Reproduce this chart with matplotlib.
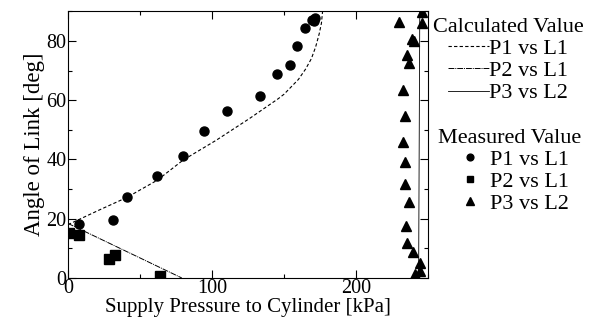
import numpy as np
import matplotlib.pyplot as plt
from matplotlib.ticker import MultipleLocator

plt.rcParams['font.family'] = ['Liberation Serif', 'DejaVu Serif']

# Calculated curves (pressure kPa, angle deg)
calc_p1_x = [0, 22, 41, 62, 80, 103, 126, 146, 150, 155, 160, 165, 169, 172, 174.5, 176, 176.8]
calc_p1_y = [18, 23, 27.2, 33, 39.8, 46.5, 53.8, 60.5, 62, 64.5, 67, 70.5, 74, 78, 82.5, 86, 90]
calc_p2_x = [0, 79]
calc_p2_y = [18.4, 0]
calc_p3_x = [243.5, 244.3]
calc_p3_y = [0, 90]

# Measured values
meas_p1_x = [7.6, 31, 41, 62, 79.6, 94.4, 110.4, 133.3, 145, 154, 159.3, 164.6, 169.7, 171.5, 171]
meas_p1_y = [18.1, 19.4, 27.2, 34.5, 41.1, 49.5, 56.3, 61.5, 68.7, 72, 78.2, 84.5, 87.2, 87.9, 86.7]
meas_p2_x = [0.7, 7.6, 28.2, 32.6, 63.9]
meas_p2_y = [15.3, 14.6, 6.3, 7.7, 0.6]
meas_p3_x = [245.6, 229.6, 245.6, 239, 240, 235.6, 236.6, 232.4, 233.8, 232.4,
             234, 234, 236.6, 234.7, 235.6, 239.4, 244.4, 244.4, 241]
meas_p3_y = [89.8, 86.4, 85.9, 80.5, 80, 75.4, 72.7, 63.4, 54.6, 45.9,
             39.2, 31.7, 25.7, 17.5, 11.7, 8.7, 5.1, 2.3, 1.2]

fig = plt.figure(figsize=(5.94, 3.27), dpi=100)
ax = fig.add_axes([0.1145, 0.150, 0.606, 0.8154])

l1, = ax.plot(calc_p1_x, calc_p1_y, color='black', ls=(0, (3, 2)), lw=0.8)
l2, = ax.plot(calc_p2_x, calc_p2_y, color='black', ls=(0, (6, 1, 1, 1)), lw=0.7)
l3, = ax.plot(calc_p3_x, calc_p3_y, color='black', ls='-', lw=0.6)

m1, = ax.plot(meas_p1_x, meas_p1_y, 'o', color='black', ms=6.5, ls='none')
m2, = ax.plot(meas_p2_x, meas_p2_y, 's', color='black', ms=6.5, ls='none')
m3, = ax.plot(meas_p3_x, meas_p3_y, '^', color='black', ms=7, ls='none')

ax.set_xlim(0, 250)
ax.set_ylim(0, 90)
ax.xaxis.set_major_locator(MultipleLocator(100))
ax.xaxis.set_minor_locator(MultipleLocator(50))
ax.yaxis.set_major_locator(MultipleLocator(20))
ax.yaxis.set_minor_locator(MultipleLocator(10))
ax.tick_params(which='both', direction='in', top=True, right=True,
               labelsize=14.5, pad=1, width=0.8)
ax.tick_params(which='major', length=6)
ax.tick_params(which='minor', length=3)
for s in ax.spines.values():
    s.set_linewidth(0.8)

ax.set_xlabel('Supply Pressure to Cylinder [kPa]', fontsize=15, labelpad=0)
ax.set_ylabel('Angle of Link [deg]', fontsize=16.5, labelpad=1)

leg_kw = dict(loc='upper right', frameon=False, fontsize=16, title_fontsize=16,
              handlelength=1.85, handletextpad=0.0, labelspacing=0.07,
              borderaxespad=0, borderpad=0, alignment='center')
leg1 = fig.legend([l1, l2, l3], ['P1 vs L1', 'P2 vs L1', 'P3 vs L2'],
                  title='Calculated Value', bbox_to_anchor=(0.982, 0.945), **leg_kw)
leg2 = fig.legend([m1, m2, m3], ['P1 vs L1', 'P2 vs L1', 'P3 vs L2'],
                  title='Measured Value', bbox_to_anchor=(0.978, 0.606),
                  markerscale=0.75, **leg_kw)

fig.savefig('out.png', dpi=100)
